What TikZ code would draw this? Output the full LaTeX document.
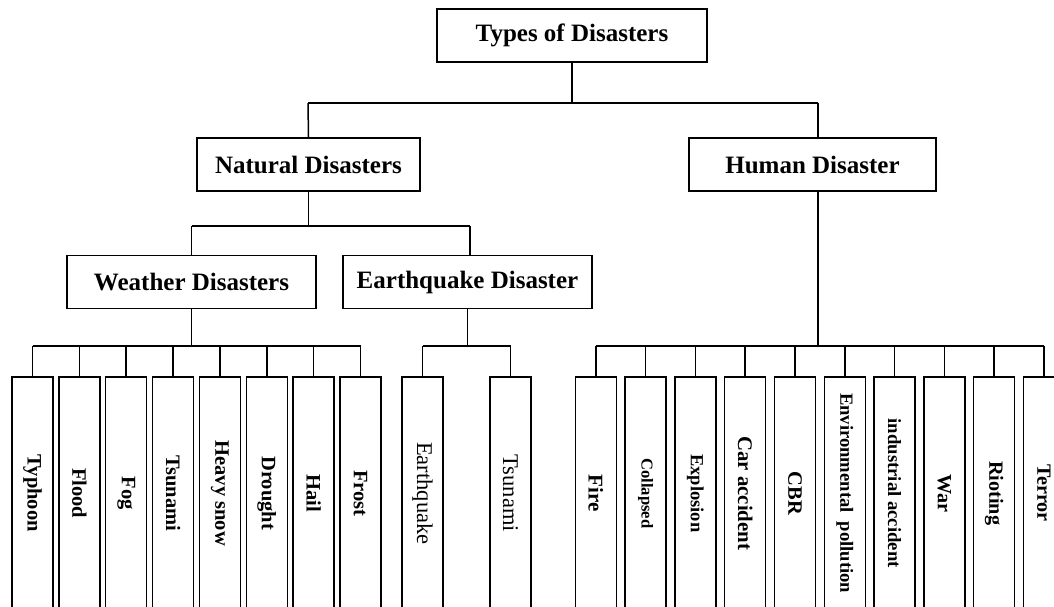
\documentclass[tikz,border=0pt]{standalone}
\usepackage{fontspec}
\setmainfont{Liberation Serif}
\begin{document}
\begin{tikzpicture}[x=1pt,y=-1pt, line width=1.5pt,
  catbox/.style={draw, line width=1.5pt, fill=white, inner sep=0pt, minimum height=53pt,
    font=\bfseries\fontsize{25}{30}\selectfont},
  leafbox/.style={draw, line width=1.5pt, fill=white, inner sep=0pt, anchor=north,
    minimum width=41pt, minimum height=233pt}]
\useasboundingbox (0,0) rectangle (1054,607);
\clip (0,0) rectangle (1054,607);
\fill[white] (0,0) rectangle (1054,607);

% category boxes
\node[catbox, minimum width=270pt] (top) at (572,35.5) {Types of Disasters};
\node[catbox, minimum width=223pt] (nat) at (308.5,164.5) {Natural Disasters};
\node[catbox, minimum width=247pt] (hum) at (812.5,164.5) {Human Disaster};
\node[catbox, minimum width=249pt] (wea) at (191.5,282) {Weather Disasters};
\node[catbox, minimum width=249pt] (eq) at (467.5,282) {Earthquake Disaster};

% bus coordinates
\coordinate (b1L) at (308,103);
\coordinate (b1R) at (818,103);
\coordinate (b2L) at (191.5,226);
\coordinate (b2R) at (470,226);
\coordinate (b3) at (0,346);

% leaves: weather
\foreach \t [count=\i] in {Typhoon,Flood,Fog,Tsunami,Heavy snow,Drought,Hail,Frost}{
  \node[leafbox, font=\bfseries\fontsize{20.5}{24}\selectfont] (w\i) at ({32.5+46.86*(\i-1)},376) {\rotatebox{-90}{\t}};
}
% leaves: earthquake
\node[leafbox, font=\fontsize{22.5}{26}\selectfont] (e1) at (422.5,376) {\rotatebox{-90}{Earthquake}};
\node[leafbox, font=\fontsize{22.5}{26}\selectfont] (e2) at (510.5,376) {\rotatebox{-90}{Tsunami}};
% leaves: human
\foreach \t/\s [count=\i] in {Fire/21,Collapsed/16.6,Explosion/18.5,Car accident/20.8,CBR/20.5,
  Environmental\ \ pollution/18.6,industrial accident/18.7,War/20.2,Rioting/20.2,Terror/20.2}{
  \node[leafbox, font=\bfseries\fontsize{\s}{\s}\selectfont] (h\i) at ({595.75+49.8*(\i-1)},376) {\rotatebox{-90}{\t}};
}

% connectors level 1
\draw (top.south) -- (top.south |- b1L);
\draw (b1L) -- (b1R);
\draw (b1L) -- (nat.north);
\draw (b1R) -- (b1R |- hum.north);
% level 2
\draw (nat.south) -- (nat.south |- b2L);
\draw (b2L) -- (b2R);
\draw (b2L) -- (wea.north);
\draw (b2R) -- (b2R |- eq.north);
% weather leaves
\draw (wea.south) -- (wea.south |- b3);
\draw (w1.north |- b3) -- (w8.north |- b3);
\foreach \i in {1,...,8}{ \draw (w\i.north) -- (w\i.north |- b3); }
% earthquake leaves
\draw (eq.south) -- (eq.south |- b3);
\draw (e1.north |- b3) -- (e2.north |- b3);
\foreach \i in {1,2}{ \draw (e\i.north) -- (e\i.north |- b3); }
% human leaves
\draw (b1R |- hum.south) -- (b1R |- b3);
\draw (h1.north |- b3) -- (h10.north |- b3);
\foreach \i in {1,...,10}{ \draw (h\i.north) -- (h\i.north |- b3); }
\end{tikzpicture}
\end{document}
